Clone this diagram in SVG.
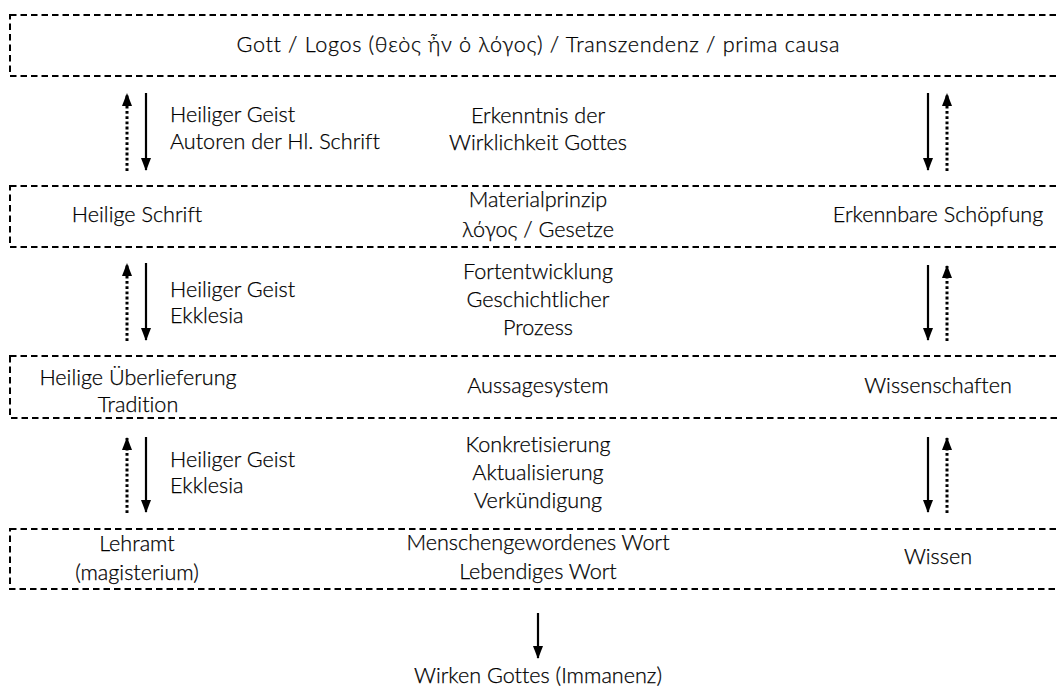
<svg xmlns="http://www.w3.org/2000/svg" width="1059" height="690" viewBox="0 0 1059 690">
<style>
.box{fill:none;stroke:#000;stroke-width:2;stroke-dasharray:6.5 4}
.t{font-family:Lato,"Open Sans","Liberation Sans",sans-serif;font-size:21.6px;font-weight:300;fill:#000;stroke:#000;stroke-width:0.25;font-variant-ligatures:none}
.c{text-anchor:middle}
.solid{stroke:#000;stroke-width:2.2;fill:none}
.dot{stroke:#000;stroke-width:3;fill:none;stroke-dasharray:2.8 2.4}
</style>
<defs>
<marker id="ah" markerUnits="userSpaceOnUse" markerWidth="13" markerHeight="10" refX="12" refY="5" orient="auto" viewBox="0 0 13 10">
<path d="M0,0 L13,5 L0,10 z" fill="#000"/>
</marker>
</defs>
<g id="n-gott">
<rect class="box" x="10" y="15" width="1070" height="61"/>
<text class="t c" x="538" y="52" textLength="603" lengthAdjust="spacing">Gott / Logos (θεὸς ἦν ὁ λόγος) / Transzendenz / prima causa</text>
</g>
<g id="n-schrift">
<rect class="box" x="10" y="186" width="1070" height="61"/>
<text class="t c" x="137" y="222">Heilige Schrift</text>
<text class="t c" x="538" y="207">Materialprinzip</text>
<text class="t c" x="538" y="237">λόγος / Gesetze</text>
<text class="t c" x="938" y="222">Erkennbare Schöpfung</text>
</g>
<g id="n-tradition">
<rect class="box" x="10" y="356" width="1070" height="62"/>
<text class="t c" x="138" y="385">Heilige Überlieferung</text>
<text class="t c" x="138" y="412">Tradition</text>
<text class="t c" x="538" y="393">Aussagesystem</text>
<text class="t c" x="938" y="393">Wissenschaften</text>
</g>
<g id="n-lehramt">
<rect class="box" x="10" y="529" width="1070" height="60"/>
<text class="t c" x="137" y="551">Lehramt</text>
<text class="t c" x="137" y="580">(magisterium)</text>
<text class="t c" x="538" y="550">Menschengewordenes Wort</text>
<text class="t c" x="538" y="579">Lebendiges Wort</text>
<text class="t c" x="938" y="564">Wissen</text>
</g>
<g id="n-wirken">
<text class="t c" x="538" y="683">Wirken Gottes (Immanenz)</text>
</g>
<g id="labels">
<text class="t" x="170" y="122">Heiliger Geist</text>
<text class="t" x="170" y="149">Autoren der Hl. Schrift</text>
<text class="t c" x="538" y="123">Erkenntnis der</text>
<text class="t c" x="538" y="150">Wirklichkeit Gottes</text>
<text class="t" x="170" y="297">Heiliger Geist</text>
<text class="t" x="170" y="323">Ekklesia</text>
<text class="t c" x="538" y="279">Fortentwicklung</text>
<text class="t c" x="538" y="307">Geschichtlicher</text>
<text class="t c" x="538" y="335">Prozess</text>
<text class="t" x="170" y="467">Heiliger Geist</text>
<text class="t" x="170" y="493">Ekklesia</text>
<text class="t c" x="538" y="452">Konkretisierung</text>
<text class="t c" x="538" y="480">Aktualisierung</text>
<text class="t c" x="538" y="508">Verkündigung</text>
</g>
<g id="connectors">
<path class="dot" d="M127,171 V94" marker-end="url(#ah)"/>
<path class="solid" d="M146,93 V170" marker-end="url(#ah)"/>
<path class="solid" d="M928,93 V170" marker-end="url(#ah)"/>
<path class="dot" d="M947,171 V94" marker-end="url(#ah)"/>
<path class="dot" d="M127,341 V264" marker-end="url(#ah)"/>
<path class="solid" d="M146,263 V340" marker-end="url(#ah)"/>
<path class="solid" d="M928,265 V340" marker-end="url(#ah)"/>
<path class="dot" d="M947,341 V266" marker-end="url(#ah)"/>
<path class="dot" d="M127,513 V438" marker-end="url(#ah)"/>
<path class="solid" d="M146,437 V512" marker-end="url(#ah)"/>
<path class="solid" d="M928,437 V512" marker-end="url(#ah)"/>
<path class="dot" d="M947,513 V438" marker-end="url(#ah)"/>
<path class="solid" d="M538,613 V658" marker-end="url(#ah)"/>
</g>
</svg>
